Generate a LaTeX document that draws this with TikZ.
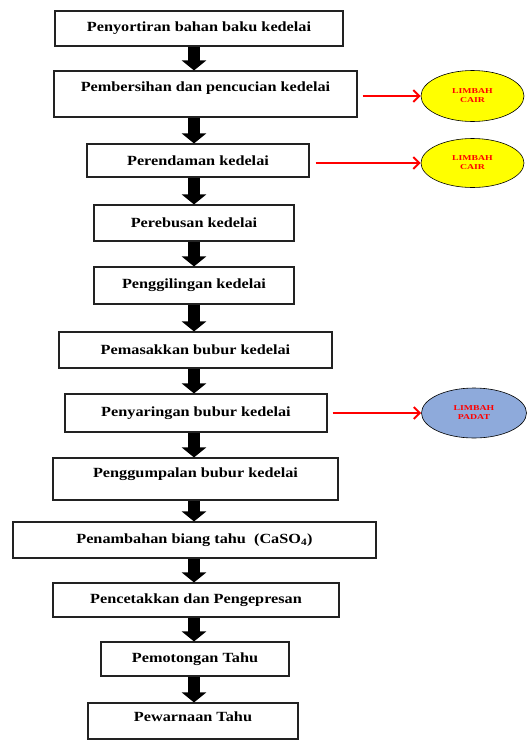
\documentclass[tikz,border=0pt]{standalone}
\usepackage{fontspec}
\setmainfont{Liberation Serif}[FakeStretch=1.16]
\newfontfamily\wastefont{Liberation Serif}[FakeStretch=1.3]
\usetikzlibrary{arrows.meta,shapes.geometric}
\definecolor{wasteyellow}{HTML}{FFFF00}
\definecolor{wasteblue}{HTML}{8EAADB}
\definecolor{wastered}{HTML}{FF0000}
\definecolor{boxline}{HTML}{222222}
\tikzset{
flowbox/.style={draw=boxline,line width=1.1pt,fill=white,inner sep=0pt,align=center,font=\bfseries\fontsize{14}{16}\selectfont},
bigarr/.style={-{Triangle[length=10pt,width=24pt]},line width=12pt,draw=black},
redarr/.style={-{Straight Barb[length=6pt,width=12pt]},line width=2pt,draw=wastered},
waste/.style={ellipse,draw=black,line width=.6pt,minimum width=103pt,minimum height=51pt,inner sep=0pt,align=center,text=wastered,font=\wastefont\bfseries\fontsize{7.5}{9}\selectfont}}
\begin{document}
\begin{tikzpicture}[x=1pt,y=-1pt]
\useasboundingbox (0,0) rectangle (527,740);
\coordinate (spine) at (194,0);
\node[flowbox,minimum width=288pt,minimum height=35pt] (sort) at (199,28.5) {Penyortiran bahan baku kedelai};
\node[flowbox,minimum width=303pt,minimum height=46pt,text depth=14pt] (wash) at (205.5,94) {Pembersihan dan pencucian kedelai};
\node[flowbox,minimum width=222pt,minimum height=33pt] (soak) at (198,160.5) {Perendaman kedelai};
\node[flowbox,minimum width=200pt,minimum height=36pt] (boil) at (194,223) {Perebusan kedelai};
\node[flowbox,minimum width=200pt,minimum height=37pt] (grind) at (194,285.5) {Penggilingan kedelai};
\node[flowbox,minimum width=273pt,minimum height=36pt] (cook) at (195.5,350) {Pemasakkan bubur kedelai};
\node[flowbox,minimum width=262pt,minimum height=38pt] (filter) at (196,413) {Penyaringan bubur kedelai};
\node[flowbox,minimum width=285pt,minimum height=42pt,text depth=12pt] (curd) at (195.5,479) {Penggumpalan bubur kedelai};
\node[flowbox,minimum width=363pt,minimum height=36pt] (coag) at (194.5,540) {Penambahan biang tahu\ \ (CaSO\textsubscript{4})};
\node[flowbox,minimum width=286pt,minimum height=34pt] (press) at (196,600) {Pencetakkan dan Pengepresan};
\node[flowbox,minimum width=188pt,minimum height=34pt] (cut) at (195,659) {Pemotongan Tahu};
\node[flowbox,minimum width=210pt,minimum height=36pt,text depth=8pt] (dye) at (193,721) {Pewarnaan Tahu};
\node[waste,fill=wasteyellow] (liquidA) at (472.5,96) {LIMBAH\\CAIR};
\node[waste,fill=wasteyellow,minimum height=49pt] (liquidB) at (472.5,163) {LIMBAH\\CAIR};
\node[waste,fill=wasteblue,minimum width=105pt,minimum height=50pt] (solid) at (474,413) {LIMBAH\\PADAT};
\foreach \a/\b in {sort/wash,wash/soak,soak/boil,boil/grind,grind/cook,cook/filter,filter/curd,curd/coag,coag/press,press/cut,cut/dye}
  \draw[bigarr] (\a.south -| spine) -- (\b.north -| spine);
\draw[redarr] ([xshift=5pt]wash.east |- liquidA) -- (liquidA.west);
\draw[redarr] ([xshift=6pt]soak.east |- liquidB) -- (liquidB.west);
\draw[redarr] ([xshift=5pt]filter.east |- solid) -- (solid.west);
\end{tikzpicture}
\end{document}
